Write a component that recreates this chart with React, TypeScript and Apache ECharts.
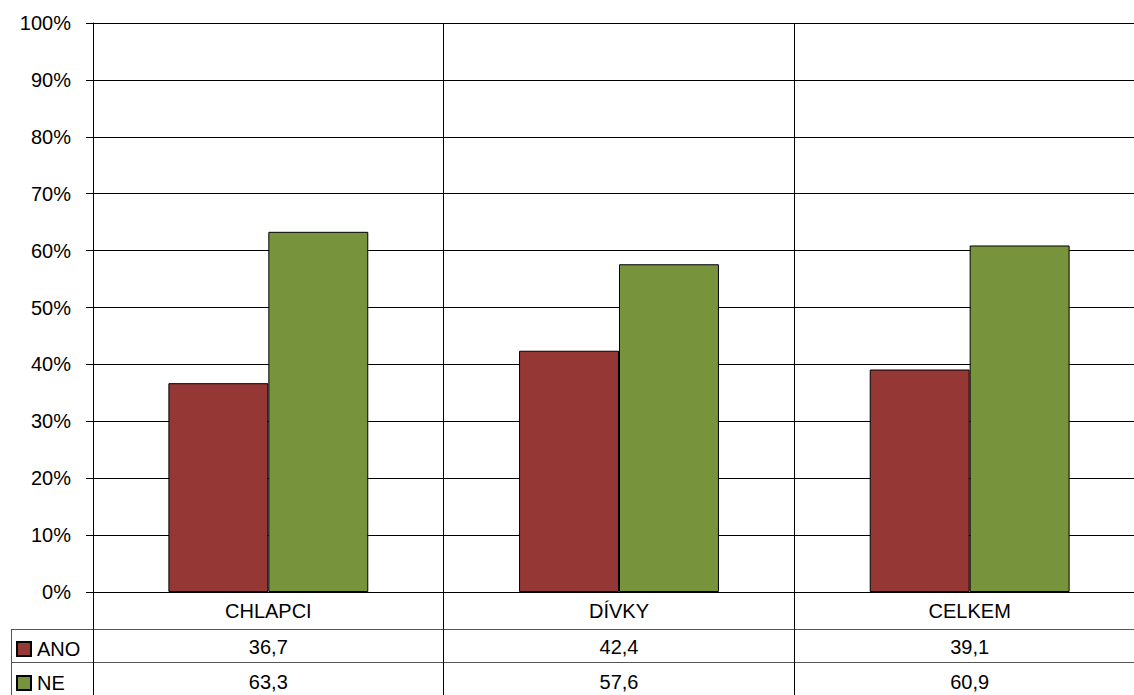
import React, { useEffect, useRef } from "react";
import * as echarts from "echarts";

// Survey answers by group, in percent
const categories = ["CHLAPCI", "DÍVKY", "CELKEM"];
const seriesNames = ["ANO", "NE"];
const anoValues = [36.7, 42.4, 39.1];
const neValues = [63.3, 57.6, 60.9];
const seriesColors = ["#953735", "#77933C"];

const FONT = '"Liberation Sans", Arial, sans-serif';
const FONT_SIZE = 20;

// Table cells use a decimal comma
const fmt = (v: number) => v.toFixed(1).replace(".", ",");

export default function App() {
  const ref = useRef<HTMLDivElement>(null);

  useEffect(() => {
    if (!ref.current) return;
    const chart = echarts.init(ref.current, undefined, { renderer: "svg" });

    const gridLeft = 93;
    const gridTop = 23;
    const gridHeight = 569;
    const tableTop = 629.5;
    const rowH = 33;

    const valueRowAxis = (values: number[], offset: number) => ({
      type: "category",
      data: values.map(fmt),
      position: "bottom",
      offset,
      axisLine: { show: false },
      axisTick: { show: false },
      splitLine: { show: false },
      axisLabel: {
        color: "#000",
        fontSize: FONT_SIZE,
        fontFamily: FONT,
        margin: 9,
        interval: 0,
      },
    });

    // one legend per table row, each sitting at the left of its row
    const rowLegend = (name: string, top: number) => ({
      left: 16,
      top,
      padding: 0,
      itemWidth: 14,
      itemHeight: 14,
      itemGap: 0,
      icon: "rect",
      selectedMode: false,
      data: [name],
      textStyle: {
        color: "#000",
        fontSize: FONT_SIZE,
        fontFamily: FONT,
        padding: [0, 0, 0, 1],
      },
    });

    chart.setOption({
      animation: false,
      backgroundColor: "#fff",
      textStyle: { fontFamily: FONT },
      grid: {
        left: gridLeft,
        top: gridTop,
        width: 1052,
        height: gridHeight,
        containLabel: false,
      },
      legend: [rowLegend(seriesNames[0], 639), rowLegend(seriesNames[1], 673)],
      xAxis: [
        {
          type: "category",
          data: categories,
          position: "bottom",
          axisLine: { show: true, lineStyle: { color: "#000", width: 1 } },
          axisTick: {
            show: true,
            inside: false,
            length: 110,
            lineStyle: { color: "#000", width: 1 },
          },
          splitLine: { show: true, lineStyle: { color: "#000", width: 1 } },
          axisLabel: {
            color: "#000",
            fontSize: FONT_SIZE,
            fontFamily: FONT,
            margin: 9,
            interval: 0,
          },
        },
        valueRowAxis(anoValues, 36),
        valueRowAxis(neValues, 71),
      ],
      yAxis: {
        type: "value",
        min: 0,
        max: 100,
        interval: 10,
        axisLine: { show: true, lineStyle: { color: "#000", width: 1 } },
        axisTick: { show: true, length: 7, lineStyle: { color: "#000" } },
        splitLine: { show: true, lineStyle: { color: "#000", width: 1 } },
        axisLabel: {
          color: "#000",
          fontSize: FONT_SIZE,
          fontFamily: FONT,
          margin: 22,
          formatter: "{value}%",
        },
      },
      series: [
        {
          name: seriesNames[0],
          type: "bar",
          data: anoValues,
          barWidth: "28.5%",
          barGap: "0%",
          itemStyle: { color: seriesColors[0], borderColor: "#000", borderWidth: 1 },
        },
        {
          name: seriesNames[1],
          type: "bar",
          data: neValues,
          barWidth: "28.5%",
          barGap: "0%",
          itemStyle: { color: seriesColors[1], borderColor: "#000", borderWidth: 1 },
        },
      ],
      graphic: [
        // data table frame below the plot
        {
          type: "line",
          shape: { x1: 11, y1: tableTop, x2: 1160, y2: tableTop },
          style: { stroke: "#555", lineWidth: 1 },
        },
        {
          type: "line",
          shape: { x1: 11, y1: tableTop + rowH, x2: 1160, y2: tableTop + rowH },
          style: { stroke: "#555", lineWidth: 1 },
        },
        {
          type: "line",
          shape: { x1: 11.5, y1: tableTop, x2: 11.5, y2: 700 },
          style: { stroke: "#555", lineWidth: 1 },
        },
      ],
    });

    return () => chart.dispose();
  }, []);

  return (
    <div
      style={{
        position: "fixed",
        left: 0,
        top: 0,
        width: 1134,
        height: 695,
        overflow: "hidden",
        background: "#fff",
      }}
    >
      <div ref={ref} style={{ width: 1160, height: 695 }} />
    </div>
  );
}
